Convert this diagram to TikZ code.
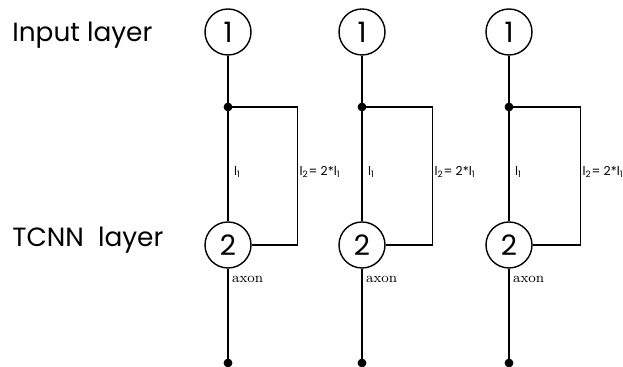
\documentclass[tikz,border=0pt]{standalone}
\usepackage{fontspec}
\setsansfont{Poppins}
\usetikzlibrary{positioning}
\tikzset{neuron/.style={draw,circle,line width=0.8pt,minimum size=9.2mm,inner sep=0pt,font=\sffamily\fontsize{16}{16}\selectfont},
         junction/.style={draw,fill,circle,minimum size=1.6mm,inner sep=0pt},
         layername/.style={anchor=west,inner sep=0pt,font=\sffamily\fontsize{15}{15}\selectfont},
         lenlabel/.style={anchor=west,inner sep=1pt,font=\sffamily\fontsize{7}{7}\selectfont},
         axonlabel/.style={anchor=west,inner sep=1pt,font=\fontsize{8}{8}\selectfont},
         wire/.style={line width=0.9pt},
        }

\begin{document}
\begin{tikzpicture}
        \useasboundingbox (0,0) rectangle (12.46,7.34);
        \node[layername](inlayer)at(0.24,6.64){Input layer};
        \node[layername](tclayer)at(0.24,2.54){TCNN\ \ layer};

        \node[neuron](in1)at(4.56,6.70){1};
        \node[neuron](tc1)at(4.56,2.44){2};
        \node[junction](sp1)at(4.56,5.20){};
        \node[junction](ax1)at(4.56,0.08){};
        \coordinate[right=1.3 of sp1](rt1);
        \draw[wire](in1)--(sp1)--(tc1);
        \draw[wire](sp1)--(rt1)|-(tc1.east);
        \draw[wire](tc1)--(ax1);
        \node[lenlabel](la1)at(4.64,3.90){l\textsubscript{1}};
        \node[lenlabel](lb1)at(5.95,3.90){l\textsubscript{2}= 2*l\textsubscript{1}};
        \node[axonlabel](an1)at(4.60,1.76){axon};

        \node[neuron](in2)at(7.24,6.70){1};
        \node[neuron](tc2)at(7.24,2.44){2};
        \node[junction](sp2)at(7.24,5.20){};
        \node[junction](ax2)at(7.24,0.08){};
        \coordinate[right=1.32 of sp2](rt2);
        \draw[wire](in2)--(sp2)--(tc2);
        \draw[wire](sp2)--(rt2)|-(tc2.east);
        \draw[wire](tc2)--(ax2);
        \node[lenlabel](la2)at(7.32,3.90){l\textsubscript{1}};
        \node[lenlabel](lb2)at(8.65,3.90){l\textsubscript{2}= 2*l\textsubscript{1}};
        \node[axonlabel](an2)at(7.28,1.76){axon};

        \node[neuron](in3)at(10.18,6.70){1};
        \node[neuron](tc3)at(10.18,2.44){2};
        \node[junction](sp3)at(10.18,5.20){};
        \node[junction](ax3)at(10.18,0.08){};
        \coordinate[right=1.34 of sp3](rt3);
        \draw[wire](in3)--(sp3)--(tc3);
        \draw[wire](sp3)--(rt3)|-(tc3.east);
        \draw[wire](tc3)--(ax3);
        \node[lenlabel](la3)at(10.26,3.90){l\textsubscript{1}};
        \node[lenlabel](lb3)at(11.61,3.90){l\textsubscript{2}= 2*l\textsubscript{1}};
        \node[axonlabel](an3)at(10.22,1.76){axon};
    \end{tikzpicture}
\end{document}
